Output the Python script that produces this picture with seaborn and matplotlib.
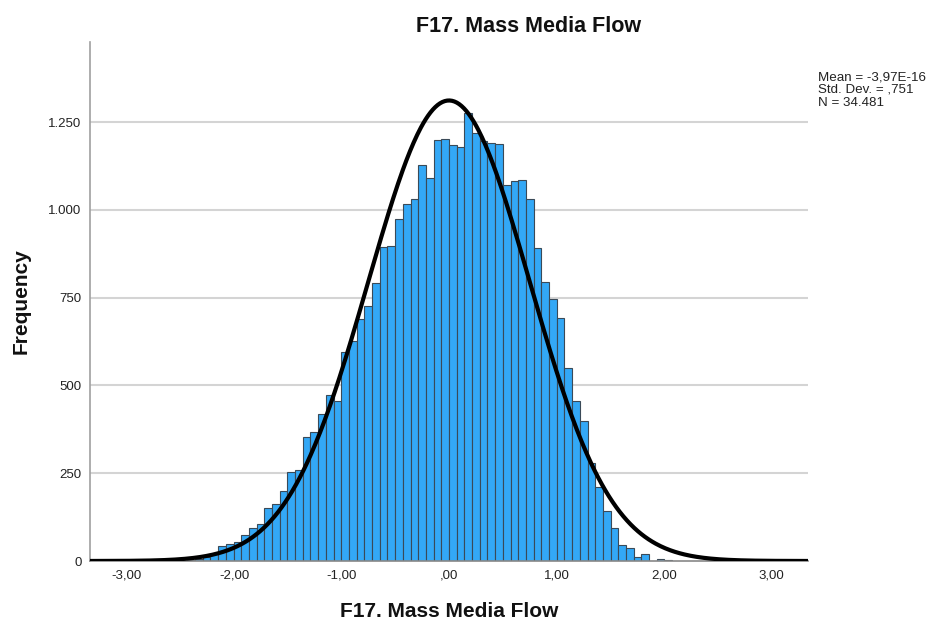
import numpy as np
import pandas as pd
import matplotlib
matplotlib.use("Agg")
import matplotlib.pyplot as plt
from matplotlib.ticker import FixedLocator, FuncFormatter
import seaborn as sns

# Histogram of F17 scores: bin width and counts per bin
bin_width = 0.0716
first_bin = -34          # index of the first bin (left edge = first_bin * bin_width)
counts = [
    3, 6, 12, 19, 42, 47, 54, 74, 95, 104, 152, 161, 200, 254, 258,
    353, 368, 420, 472, 456, 596, 627, 690, 727, 792, 893, 897, 975,
    1018, 1030, 1128, 1090, 1199, 1202,
    1185, 1180, 1276, 1218, 1197, 1191, 1187, 1071, 1083, 1085, 1031,
    890, 794, 746, 691, 549, 456, 398, 278, 210, 143, 95, 46, 36, 12,
    20, 0, 6, 3,
]

# Summary statistics
mean_val = -3.97e-16
std_val = 0.751
n_val = 34481
stats_lines = ["Mean = -3,97E-16", "Std. Dev. = ,751", "N = 34.481"]

title = "F17. Mass Media Flow"
x_label = "F17. Mass Media Flow"
y_label = "Frequency"
x_ticks = [-3, -2, -1, 0, 1, 2, 3]
y_ticks = [0, 250, 500, 750, 1000, 1250]

edges = [float(e) for e in (np.arange(len(counts) + 1) + first_bin) * bin_width]
centers = [(a + b) / 2 for a, b in zip(edges[:-1], edges[1:])]
df = pd.DataFrame({"score": centers, "count": counts})

sns.set_theme(style="white")
plt.rcParams["font.family"] = ["Liberation Sans", "DejaVu Sans"]

fig = plt.figure(figsize=(9.27, 6.22), dpi=100)
ax = fig.add_axes([90 / 927, 61 / 622, 718 / 927, 519 / 622])

ax.set_xlim(-3.34, 3.34)
ax.set_ylim(0, 1478)

for yt in y_ticks[1:]:
    ax.axhline(yt, color="#d4d4d4", lw=1.5, zorder=0)

sns.histplot(data=df, x="score", weights="count", bins=edges, ax=ax,
             color="#33a8f6", edgecolor="#3a4a58", linewidth=0.8,
             alpha=1.0, zorder=2)

# Fitted normal curve scaled to counts per bin
xs = np.linspace(-3.34, 3.34, 600)
ys = n_val * bin_width / (std_val * np.sqrt(2 * np.pi)) * np.exp(-0.5 * ((xs - mean_val) / std_val) ** 2)
sns.lineplot(x=xs, y=ys, ax=ax, color="black", lw=3.0, zorder=3)

ax.xaxis.set_major_locator(FixedLocator(x_ticks))
ax.yaxis.set_major_locator(FixedLocator(y_ticks))


def fmt_x(v, pos):
    s = f"{abs(v):.2f}".replace(".", ",")
    if s.startswith("0"):
        s = s[1:]
    return ("-" if v < 0 else "") + s


def fmt_y(v, pos):
    return f"{int(v):,}".replace(",", ".")


ax.xaxis.set_major_formatter(FuncFormatter(fmt_x))
ax.yaxis.set_major_formatter(FuncFormatter(fmt_y))
ax.tick_params(axis="both", length=0, labelsize=9.5, colors="#222222", pad=6)

for side in ["top", "right"]:
    ax.spines[side].set_visible(False)
ax.spines["left"].set_color("#a0a0a0")
ax.spines["left"].set_linewidth(1.2)
ax.spines["bottom"].set_color("#888888")
ax.spines["bottom"].set_linewidth(1.2)

ax.set_xlabel(x_label, fontsize=15, fontweight="bold", labelpad=15, color="#111111")
ax.set_ylabel(y_label, fontsize=15, fontweight="bold", labelpad=13, color="#111111")
fig.text(529 / 927, 1 - 27 / 622, title, ha="center", va="center",
         fontsize=15.5, fontweight="bold", color="#111111")

for i, line in enumerate(stats_lines):
    fig.text(818 / 927, 1 - (77 + 13 * i) / 622, line, ha="left", va="center",
             fontsize=9.6, color="#222222")

fig.savefig("out.png", dpi=100)
